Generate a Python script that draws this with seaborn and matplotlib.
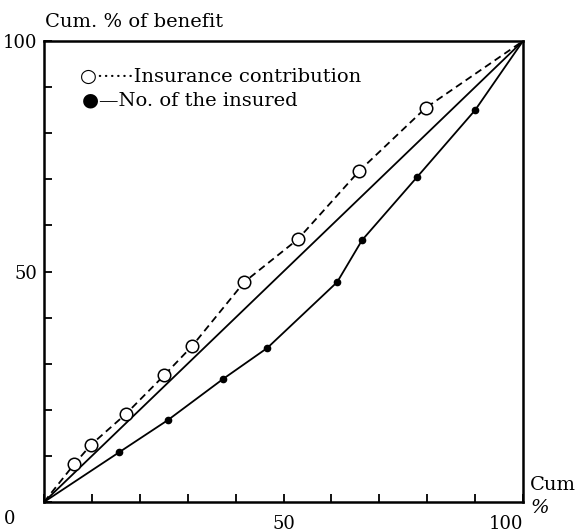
import numpy as np
import pandas as pd
import matplotlib.pyplot as plt
import seaborn as sns
from matplotlib.ticker import MultipleLocator

# ── data (cum. % vs cum. % of benefit) ──
CONTRIB_X = [0, 6.3, 9.8, 17.1, 25.1, 30.9, 41.8, 53.0, 65.8, 79.7, 100]
CONTRIB_Y = [0, 8.2, 12.4, 19.1, 27.5, 33.8, 47.7, 57.0, 71.8, 85.5, 100]
INSURED_X = [0, 15.7, 25.9, 37.4, 46.6, 61.2, 66.4, 77.9, 90.0, 100]
INSURED_Y = [0, 10.8, 17.8, 26.7, 33.4, 47.7, 56.8, 70.5, 85.0, 100]
EQUALITY = [0, 100]

X_TICKS = [0, 50, 100]
X_TICK_LABELS = ['', '50', '100']
Y_TICKS = [0, 50, 100]
Y_TICK_LABELS = ['', '50', '100']

sns.set_style('ticks')
plt.rcParams['font.family'] = ['DejaVu Serif', 'DejaVu Sans']
plt.rcParams['font.size'] = 13
plt.rcParams['text.color'] = 'black'
plt.rcParams['xtick.color'] = 'black'
plt.rcParams['ytick.color'] = 'black'

contrib = pd.DataFrame({'x': CONTRIB_X, 'y': CONTRIB_Y})
insured = pd.DataFrame({'x': INSURED_X, 'y': INSURED_Y})
equal = pd.DataFrame({'x': EQUALITY, 'y': EQUALITY})

fig = plt.figure(figsize=(5.86, 5.31), dpi=100)
ax = fig.add_axes([0.0751, 0.0546, 0.8174, 0.8682])

# line of equality
sns.lineplot(data=equal, x='x', y='y', ax=ax, color='black', linewidth=1.3)

# insurance contribution: open circles, dashed
sns.lineplot(data=contrib, x='x', y='y', ax=ax, color='black', linewidth=1.3,
             linestyle=(0, (4, 2.5)), marker='o', markersize=9,
             markerfacecolor='white', markeredgecolor='black',
             markeredgewidth=1.1,
             markevery=list(range(1, len(CONTRIB_X) - 1)))

# number of the insured: filled dots, solid
sns.lineplot(data=insured, x='x', y='y', ax=ax, color='black', linewidth=1.3,
             marker='o', markersize=4.5, markerfacecolor='black',
             markeredgecolor='black', markeredgewidth=1,
             markevery=list(range(1, len(INSURED_X) - 1)))

ax.set_xlim(0, 100)
ax.set_ylim(0, 100)
ax.set_xlabel('')
ax.set_ylabel('')
ax.set_xticks(X_TICKS)
ax.set_xticklabels(X_TICK_LABELS)
ax.set_yticks(Y_TICKS)
ax.set_yticklabels(Y_TICK_LABELS)
ax.xaxis.set_minor_locator(MultipleLocator(10))
ax.yaxis.set_minor_locator(MultipleLocator(10))
ax.tick_params(which='both', direction='in', length=6, width=1.3,
               top=False, right=False, colors='black', labelcolor='black')
ax.tick_params(axis='x', pad=9)
ax.tick_params(axis='y', pad=5)
ax.get_xticklabels()[-1].set_horizontalalignment('right')

for sp in ax.spines.values():
    sp.set_visible(True)
    sp.set_linewidth(1.8)
    sp.set_color('black')

# shared origin label and axis titles
ax.text(-0.071, -0.037, '0', transform=ax.transAxes, ha='center', va='center')
ax.text(0.002, 1.030, 'Cum. % of benefit', transform=ax.transAxes,
        ha='left', va='baseline', fontsize=14)
ax.text(1.015, 0.037, 'Cum', transform=ax.transAxes, ha='left', va='center',
        fontsize=14)
ax.text(1.015, -0.013, '%', transform=ax.transAxes, ha='left', va='center',
        style='italic', fontsize=14)

# legend written as text, like the original figure
ax.text(0.075, 0.912, '○······Insurance contribution', transform=ax.transAxes,
        ha='left', va='baseline', fontsize=14)
ax.text(0.079, 0.8605, '●—No. of the insured', transform=ax.transAxes,
        ha='left', va='baseline', fontsize=14)

plt.savefig('out.png', dpi=100)
plt.close()
